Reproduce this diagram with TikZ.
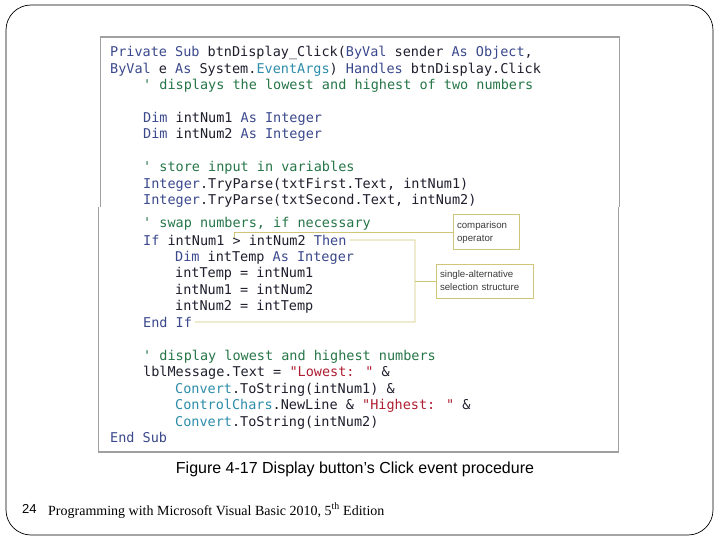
\documentclass[tikz,border=0pt]{standalone}
\usepackage{fontspec}
\setmainfont{Liberation Serif}
\setsansfont{Liberation Sans}
\newfontfamily\codefont{DejaVu Sans Mono}
\definecolor{kwc}{RGB}{58,72,140}
\definecolor{idc}{RGB}{30,30,45}
\definecolor{cmc}{RGB}{38,118,72}
\definecolor{stc}{RGB}{175,30,50}
\definecolor{tyc}{RGB}{45,140,170}
\definecolor{annc}{RGB}{208,198,120}
\definecolor{boxc}{RGB}{160,160,160}
\definecolor{anntext}{RGB}{60,60,60}
\newcommand{\kw}[1]{\textcolor{kwc}{#1}}
\newcommand{\cmt}[1]{\textcolor{cmc}{#1}}
\newcommand{\str}[1]{\textcolor{stc}{#1}}
\newcommand{\ty}[1]{\textcolor{tyc}{#1}}
\newcommand{\q}{\symbol{39}}
\tikzset{
  codeline/.style={anchor=base west, inner sep=0pt, text=idc, font=\codefont\fontsize{13.5}{16}\selectfont},
  annbox/.style={draw=annc, line width=1pt, fill=white, align=left, inner sep=0pt, text=anntext,
    font=\sffamily\fontsize{9.7}{13}\selectfont},
  annline/.style={draw=annc, line width=0.9pt},
  codebox/.style={draw=boxc, line width=1.5pt}
}
\begin{document}
\begin{tikzpicture}[x=1pt,y=-1pt]
\useasboundingbox (0,0) rectangle (720,540);
% outer frame
\draw[black, line width=0.7pt, rounded corners=25pt] (6,5) rectangle (713,535);
% code box
\draw[codebox] (100.5,207.5) -- (100.5,37) -- (619.3,37) -- (619.3,207.5);
\draw[codebox] (98.5,207.5) -- (98.5,452) -- (618.3,452) -- (618.3,207.5);
% code lines
\node[codeline] (l1) at (110,57) {\kw{Private Sub} btnDisplay\_Click(\kw{ByVal} sender \kw{As Object},};
\node[codeline] (l2) at (110,74) {\kw{ByVal} e \kw{As} System.\ty{EventArgs}) \kw{Handles} btnDisplay.Click};
\node[codeline] (l3) at (143,90) {\cmt{\q{} displays the lowest and highest of two numbers}};
\node[codeline] (l4) at (143,123) {\kw{Dim} intNum1 \kw{As Integer}};
\node[codeline] (l5) at (143,139) {\kw{Dim} intNum2 \kw{As Integer}};
\node[codeline] (l6) at (143,172) {\cmt{\q{} store input in variables}};
\node[codeline] (l7) at (143,189) {\kw{Integer}.TryParse(txtFirst.Text, intNum1)};
\node[codeline] (l8) at (143,205) {\kw{Integer}.TryParse(txtSecond.Text, intNum2)};
\node[codeline] (l9) at (143,228) {\cmt{\q{} swap numbers, if necessary}};
\node[codeline] (l10) at (143,245) {\kw{If} intNum1 > intNum2 \kw{Then}};
\node[codeline] (l11) at (175,261) {\kw{Dim} intTemp \kw{As Integer}};
\node[codeline] (l12) at (175,277) {intTemp = intNum1};
\node[codeline] (l13) at (175,294) {intNum1 = intNum2};
\node[codeline] (l14) at (175,310) {intNum2 = intTemp};
\node[codeline] (l15) at (143,327) {\kw{End If}};
\node[codeline] (l16) at (143,360) {\cmt{\q{} display lowest and highest numbers}};
\node[codeline] (l17) at (143,376) {lblMessage.Text = \str{"Lowest: "} \&};
\node[codeline] (l18) at (175,393) {\ty{Convert}.ToString(intNum1) \&};
\node[codeline] (l19) at (175,409) {\ty{ControlChars}.NewLine \& \str{"Highest: "} \&};
\node[codeline] (l20) at (175,426) {\ty{Convert}.ToString(intNum2)};
\node[codeline] (l21) at (110,442) {\kw{End Sub}};
% annotation boxes
\node[annbox, minimum width=66pt, minimum height=34pt, text width=58pt] (cmp) at (486,232) {comparison\\operator};
\node[annbox, minimum width=97pt, minimum height=34pt, text width=89pt] (sel) at (484.5,281) {single-alternative\\selection structure};
% connectors
\coordinate (cA) at (234,232);
\coordinate (cB) at (234,238);
\draw[annline] (cmp.west) -- (cA) -- (cB);
\coordinate (bTR) at (415,240);
\coordinate (bBR) at (415,322);
\coordinate (bMid) at (415,281);
\draw[annline] ([xshift=3pt]l10.east) -- (bTR) -- (bBR) -- ([xshift=3pt]l15.east |- bBR);
\draw[annline] (bMid) -- (sel.west);
% caption and footer
\node[font=\sffamily\fontsize{16}{18}\selectfont, inner sep=0pt] (cap) at (355,469) {Figure 4-17 Display button\symbol{39}s Click event procedure};
\node[font=\sffamily\fontsize{13}{15}\selectfont, anchor=base west, inner sep=0pt] (pg) at (22,513) {24};
\node[font=\rmfamily\fontsize{14}{16}\selectfont, anchor=base west, inner sep=0pt] (ft) at (48,515) {Programming with Microsoft Visual Basic 2010, 5\textsuperscript{th} Edition};
\end{tikzpicture}
\end{document}
